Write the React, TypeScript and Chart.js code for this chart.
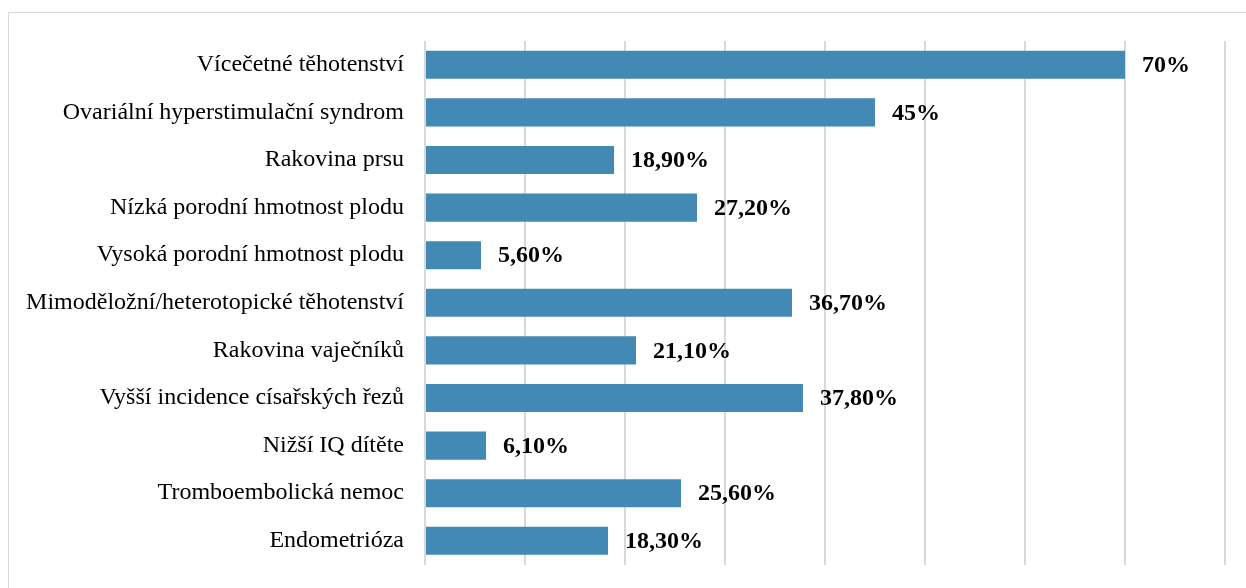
import React, { useEffect, useRef } from "react";
import { Chart, registerables } from "chart.js";

Chart.register(...registerables);

const categories = [
  "Vícečetné těhotenství",
  "Ovariální hyperstimulační syndrom",
  "Rakovina prsu",
  "Nízká porodní hmotnost plodu",
  "Vysoká porodní hmotnost plodu",
  "Mimoděložní/heterotopické těhotenství",
  "Rakovina vaječníků",
  "Vyšší incidence císařských řezů",
  "Nižší IQ dítěte",
  "Tromboembolická nemoc",
  "Endometrióza",
];
const values = [70, 45, 18.9, 27.2, 5.6, 36.7, 21.1, 37.8, 6.1, 25.6, 18.3];
const valueLabels = [
  "70%", "45%", "18,90%", "27,20%", "5,60%", "36,70%",
  "21,10%", "37,80%", "6,10%", "25,60%", "18,30%",
];

const labelPlugin = {
  id: "valueLabels",
  afterDatasetsDraw(chart: any) {
    const ctx = chart.ctx;
    const meta = chart.getDatasetMeta(0);
    ctx.save();
    ctx.font = "bold 24px 'Liberation Serif', 'Times New Roman', serif";
    ctx.fillStyle = "#000";
    ctx.textAlign = "left";
    ctx.textBaseline = "middle";
    meta.data.forEach((bar: any, i: number) => {
      ctx.fillText(valueLabels[i], bar.x + 17, bar.y + 1);
    });
    ctx.restore();
  },
};

export default function App() {
  const ref = useRef<HTMLCanvasElement>(null);
  useEffect(() => {
    if (!ref.current) return;
    const chart = new Chart(ref.current, {
      type: "bar",
      data: {
        labels: categories,
        datasets: [
          {
            data: values,
            backgroundColor: "#428AB5",
            borderWidth: 0,
            categoryPercentage: 1,
            barPercentage: 0.59,
          },
        ],
      },
      options: {
        indexAxis: "y",
        animation: false,
        responsive: false,
        maintainAspectRatio: false,
        layout: { padding: { left: 0, right: 21, top: 41, bottom: 0 } },
        plugins: { legend: { display: false }, tooltip: { enabled: false } },
        scales: {
          x: {
            min: 0,
            max: 80,
            ticks: { display: false, stepSize: 10 },
            grid: { color: "#d9d9d9", lineWidth: 2, drawTicks: false },
            border: { display: false },
            afterFit: (s: any) => {
              s.height = 0;
            },
          },
          y: {
            grid: { display: false, drawTicks: false },
            border: { display: false },
            ticks: {
              color: "#000",
              padding: 21,
              font: { family: "'Liberation Serif', 'Times New Roman', serif", size: 24 },
            },
            afterFit: (s: any) => {
              s.width = 425;
            },
          },
        },
      },
      plugins: [labelPlugin],
    });
    return () => chart.destroy();
  }, []);
  return (
    <div style={{ position: "fixed", left: 0, top: 0, width: 1246, height: 588, background: "#fff", overflow: "hidden" }}>
      <div
        style={{
          position: "absolute",
          left: 8,
          top: 12,
          width: 1260,
          height: 600,
          border: "1px solid #d9d9d9",
        }}
      />
      <canvas ref={ref} width={1246} height={600} style={{ position: "absolute", left: 0, top: 0 }} />
    </div>
  );
}
